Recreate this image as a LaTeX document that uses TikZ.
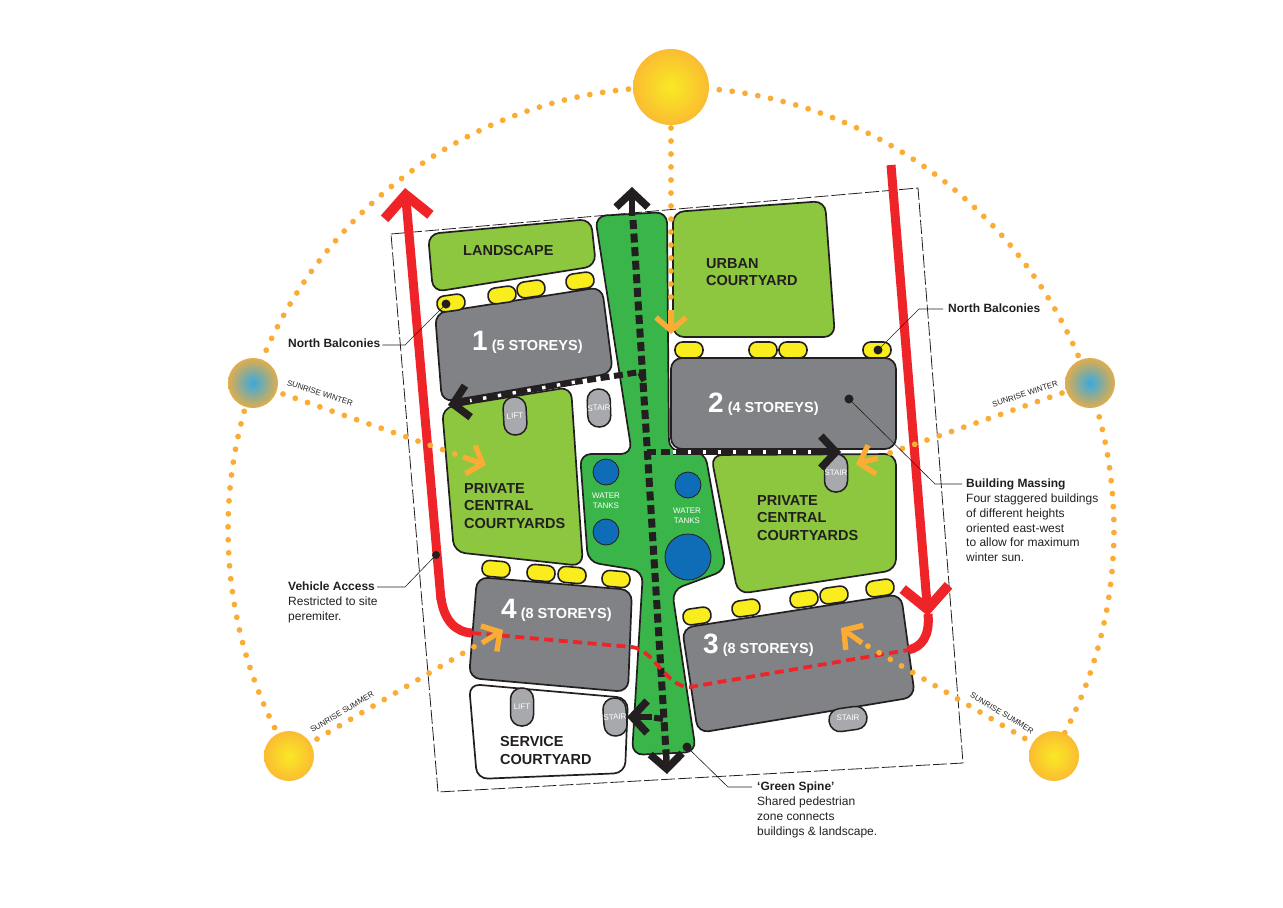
\documentclass[tikz,border=0pt]{standalone}
\usepackage{fontspec}
\setmainfont{Liberation Sans}
\usetikzlibrary{arrows.meta}
\definecolor{verde}{HTML}{8DC63F}
\definecolor{verdeoscuro}{HTML}{39B54A}
\definecolor{gris}{HTML}{808285}
\definecolor{grisclaro}{HTML}{A7A9AC}
\definecolor{amarillo}{HTML}{F9ED1E}
\definecolor{rojo}{HTML}{EE2429}
\definecolor{naranja}{HTML}{FBAC35}
\definecolor{negro}{HTML}{231F20}
\definecolor{azul}{HTML}{0F6DB8}
\definecolor{solamarillo}{HTML}{F9E925}
\definecolor{solnaranja}{HTML}{FBAE35}
\definecolor{solazul}{HTML}{38A9E0}
\pgfdeclareradialshading{solverano}{\pgfpointorigin}{color(0bp)=(solamarillo); color(33bp)=(solnaranja); color(100bp)=(solnaranja)}
\pgfdeclareradialshading{solinvierno}{\pgfpointorigin}{color(0bp)=(solazul); color(29bp)=(solnaranja); color(100bp)=(solnaranja)}

\begin{document}
\begin{tikzpicture}[x=1pt,y=-1pt,
    every node/.style={font=\fontsize{12}{14.7}\selectfont,text=negro,inner sep=0pt},
    bloque/.style={draw=negro,line width=1.7pt,rounded corners=11pt,line join=round},
    balcon/.style={draw=negro,line width=1.6pt,fill=amarillo,rounded corners=7.5pt,minimum width=28pt,minimum height=16pt},
    nucleo/.style={draw=negro,line width=1.5pt,fill=grisclaro,rounded corners=11pt,minimum width=23pt,minimum height=38pt,font=\fontsize{8}{9}\selectfont,text=white},
    tanque/.style={circle,draw=negro,line width=.8pt,fill=azul},
    tanquetxt/.style={font=\fontsize{8}{9.6}\selectfont,text=white,align=center},
    patio/.style={font=\bfseries\fontsize{14.5}{17.8}\selectfont,align=left,anchor=north west},
    piso/.style={font=\bfseries\fontsize{14.5}{17}\selectfont,text=white,anchor=base west},
    nota/.style={align=left,anchor=north west},
    amanecer/.style={font=\fontsize{7.9}{9}\selectfont},
    punto/.style={circle,fill=negro,minimum size=9pt},
    guia/.style={draw=negro,line width=.6pt},
    puntos/.style={draw=naranja,line width=5.8pt,line cap=round,dash pattern=on 0pt off 13pt},
    flechan/.style={draw=naranja,line width=5.2pt,-{Straight Barb[length=13pt,width=30pt,line width=5.4pt]}},
    flechar/.style={draw=rojo,line width=9pt,-{Straight Barb[length=22pt,width=46pt,line width=10pt]}},
    flechab/.style={draw=negro,line width=6.5pt,-{Straight Barb[length=15pt,width=32pt,line width=7.5pt]}},
    rayasb/.style={draw=negro,line width=7pt,dash pattern=on 9pt off 4.6pt},
    cuadros/.style={draw=white,line width=3.4pt,dash pattern=on 3.4pt off 11.6pt},
    rayasr/.style={draw=rojo,line width=3.8pt,dash pattern=on 9pt off 5.5pt}]
  \useasboundingbox (0,0) rectangle (1283,908);

  \draw[line width=.8pt,draw=negro,dash pattern=on 14pt off 3pt] (391,234) -- (918,188) -- (963,763) -- (438,792) -- cycle;

  \draw[bloque,fill=verdeoscuro] (595,216) -- (667,212) -- (669,451) -- (705,452) -- (726,570) -- (672,590) -- (696,752) -- (632,755) -- (643,571) -- (588,562) -- (580,454) -- (632,454) -- cycle;
  \draw[bloque,fill=verde] (428,234) -- (591,219) -- (596,266) -- (433,292) -- cycle;
  \draw[bloque,fill=verde] (673,212) -- (825,201) -- (835,337) -- (673,337) -- cycle;
  \draw[bloque,fill=verde] (442,408) -- (571,387) -- (583,566) -- (454,552) -- cycle;
  \draw[bloque,fill=verde] (711,455) -- (896,454) -- (896,570) -- (738,594) -- cycle;
  \draw[bloque,fill=white] (469,684) -- (628,698) -- (625,773) -- (477,779) -- cycle;
  \draw[bloque,fill=gris] (435,313) -- (602,287) -- (613,373) -- (442,402) -- cycle;
  \draw[bloque,fill=gris] (671,358) -- (896,358) -- (896,449) -- (671,449) -- cycle;
  \draw[bloque,fill=gris] (477,577) -- (632,590) -- (628,692) -- (469,678) -- cycle;
  \draw[bloque,fill=gris] (682,628) -- (901,594) -- (915,697) -- (698,733) -- cycle;

  \foreach \px/\py/\ang in {451/303/8,502/295/8,531/289/8,580/281/8,689/350/0,763/350/0,793/350/0,877/350/0,496/569/-5,541/573/-5,572/575/-5,616/579/-5,697/616/8,746/608/8,804/599/8,834/595/8,880/588/8}
    \node[balcon,rotate=\ang] at (\px,\py) {};

  \node[tanque,minimum size=26pt] (tq1) at (606,472) {};
  \node[tanque,minimum size=26pt] (tq2) at (606,532) {};
  \node[tanque,minimum size=26pt] (tq3) at (688,485) {};
  \node[tanque,minimum size=46pt] (tq4) at (688,557) {};
  \node[tanquetxt] (txt1) at (606,501) {WATER\\TANKS};
  \node[tanquetxt] (txt2) at (687,516) {WATER\\TANKS};

  \node[nucleo,rotate=3] (lift1) at (515,416) {LIFT};
  \node[nucleo,rotate=2] (stair1) at (599,408) {STAIR};
  \node[nucleo] (stair2) at (836,473) {STAIR};
  \node[nucleo] (lift2) at (522,707) {LIFT};
  \node[nucleo,rotate=4] (stair3) at (615,717) {STAIR};
  \node[nucleo,rotate=98,text=grisclaro] (stair4) at (848,719) {};
  \node[font=\fontsize{8}{9}\selectfont,text=white] (stair4t) at (848,718) {STAIR};

  \draw[rayasb] (633,220) -- (666,752);
  \draw[flechab] (632,216) -- (632,187);
  \draw[flechab] (666,750) -- (667,774);

  \draw[draw=negro,line width=6pt] (575,382) -- (462,402);
  \draw[cuadros] (575,382) -- (462,402);
  \draw[rayasb,line width=6pt] (644,381) -- (640,372) -- (575,382);
  \draw[flechab] (470,401) -- (448,405);

  \draw[rayasb,line width=6pt] (647,452) -- (673,452);
  \draw[draw=negro,line width=6pt] (673,452) -- (825,452);
  \draw[cuadros] (673,452) -- (812,452);
  \draw[flechab] (815,452) -- (841,452);

  \draw[rayasb,line width=6pt] (663,719) -- (650,717);
  \draw[flechab] (652,717) -- (627,717);

  \draw[flechar] (441,600) -- (405,188);
  \draw[draw=rojo,line width=9pt] (441,598) .. controls (444,620) and (455,632) .. (472,633);
  \draw[flechar] (891,165) -- (928,616);
  \draw[draw=rojo,line width=9pt] (928,614) .. controls (930,636) and (922,647) .. (908,650);
  \draw[rayasr] (472,633) -- (632,647) .. controls (655,650) and (665,687) .. (690,687) -- (908,650);

  \draw[puntos] plot[domain=-30.6:210.6,samples=121] ({671+443*cos(\x)},{530-443*sin(\x)});
  \draw[puntos] (671,128) -- (671,305);
  \draw[puntos] (283,394) -- (458,455);
  \draw[puntos] (1062,393) -- (884,455);
  \draw[puntos] (317,739) -- (477,645);
  \draw[puntos] (1036,745) -- (866,645);

  \draw[flechan] (671,310) -- (671,334);
  \draw[flechan] (463,457) -- (486,465);
  \draw[flechan] (878,458) -- (856,464);
  \draw[flechan] (482,643) -- (503,630);
  \draw[flechan] (862,643) -- (841,628);

  \node[circle,minimum size=76pt,shading=solverano] (soltop) at (671,87) {};
  \node[circle,minimum size=50pt,shading=solinvierno] (solizq) at (253,383) {};
  \node[circle,minimum size=50pt,shading=solinvierno] (solder) at (1090,383) {};
  \node[circle,minimum size=50pt,shading=solverano] (veraizq) at (289,756) {};
  \node[circle,minimum size=50pt,shading=solverano] (verader) at (1054,756) {};

  \node[amanecer,rotate=-18] (am1) at (320,393) {SUNRISE WINTER};
  \node[amanecer,rotate=18] (am2) at (1025,394) {SUNRISE WINTER};
  \node[amanecer,rotate=31] (am3) at (342,712) {SUNRISE SUMMER};
  \node[amanecer,rotate=-31] (am4) at (1002,713) {SUNRISE SUMMER};

  \node[patio,font=\bfseries\fontsize{14.5}{17.8}\selectfont] (pat1) at (463,245) {LANDSCAPE};
  \node[patio] (pat2) at (706,258) {URBAN\\COURTYARD};
  \node[patio] (pat3) at (464,483) {PRIVATE\\CENTRAL\\COURTYARDS};
  \node[patio] (pat4) at (757,495) {PRIVATE\\CENTRAL\\COURTYARDS};
  \node[patio] (pat5) at (500,736) {SERVICE\\COURTYARD};

  \node[piso] (edif1) at (472,350) {{\fontsize{28}{28}\selectfont 1} (5 STOREYS)};
  \node[piso] (edif2) at (708,412) {{\fontsize{28}{28}\selectfont 2} (4 STOREYS)};
  \node[piso] (edif3) at (703,653) {{\fontsize{28}{28}\selectfont 3} (8 STOREYS)};
  \node[piso] (edif4) at (501,618) {{\fontsize{28}{28}\selectfont 4} (8 STOREYS)};

  \node[punto] (pt1) at (446,304) {};
  \node[punto] (pt2) at (878,350) {};
  \node[punto] (pt3) at (849,399) {};
  \node[punto,minimum size=8pt] (pt4) at (436,555) {};
  \node[punto] (pt5) at (687,747) {};

  \node[nota] (nb1) at (288,339) {\textbf{North Balconies}};
  \node[nota] (nb2) at (948,304) {\textbf{North Balconies}};
  \node[nota] (masa) at (966,479) {\textbf{Building Massing}\\Four staggered buildings\\of different heights\\oriented east-west\\to allow for maximum\\winter sun.};
  \node[nota] (veh) at (288,582) {\textbf{Vehicle Access}\\Restricted to site\\peremiter.};
  \node[nota] (esp) at (757,782) {\textbf{‘Green Spine’}\\Shared pedestrian\\zone connects\\buildings \& landscape.};

  \coordinate (c1) at (405,345);
  \coordinate (c2) at (919,309);
  \coordinate (c3) at (935,484);
  \coordinate (c4) at (405,587);
  \coordinate (c5) at (728,787);
  \coordinate (t2) at (943,309);
  \coordinate (t3) at (962,484);
  \coordinate (t4) at (377,587);
  \coordinate (t5) at (752,787);
  \draw[guia] (nb1.east |- c1) ++(2,0) -- (c1) -- (pt1);
  \draw[guia] (pt2) -- (c2) -- (t2);
  \draw[guia] (pt3) -- (c3) -- (t3);
  \draw[guia] (t4) -- (c4) -- (pt4);
  \draw[guia] (pt5) -- (c5) -- (t5);
\end{tikzpicture}
\end{document}
